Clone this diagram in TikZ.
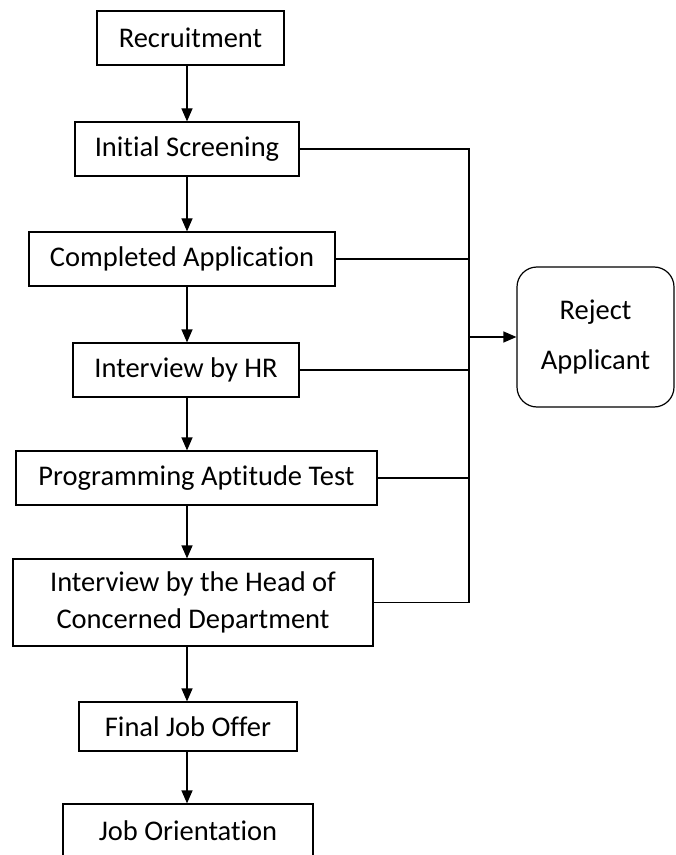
\documentclass[tikz,border=0pt]{standalone}
\usepackage{fontspec}
\setmainfont{Carlito}[Ligatures={NoCommon}]
\usetikzlibrary{arrows.meta}

\begin{document}
\begin{tikzpicture}[x=0.5pt,y=-0.5pt,
  every node/.style={font=\fontsize{14.25}{18.5}\selectfont},
  stage/.style={shape=rectangle,draw=black,line width=0.6pt,inner sep=0pt,minimum height=27pt,align=center},
  reject/.style={shape=rectangle,draw=black,line width=0.6pt,rounded corners=10pt,inner sep=0pt,align=center},
  flow/.style={line width=0.6pt,-{Triangle[length=6.5pt,width=5.5pt]}},
  link/.style={line width=0.6pt}]
\useasboundingbox (0,0) rectangle (675,855);
\coordinate (spine) at (187,0);
\coordinate (bus) at (469,0);
\node[stage,minimum width=93.5pt] (A) at (190.5,38) {Recruitment};
\node[stage,minimum width=112pt] (B) at (187,149) {Initial Screening};
\node[stage,minimum width=153pt] (C) at (182,259) {Completed Application};
\node[stage,minimum width=113pt] (D) at (186,370) {Interview by HR};
\node[stage,minimum width=180.5pt] (E) at (196.5,478) {Programming Aptitude Test};
\node[stage,minimum width=180pt,minimum height=43.5pt] (F) at (193,602.5) {Interview by the Head of\\Concerned Department};
\node[stage,minimum width=109pt,minimum height=24.5pt] (G) at (188,726.5) {Final Job Offer};
\node[stage,minimum width=125pt] (H) at (188,831) {Job Orientation};
\node[reject,minimum width=78.5pt,minimum height=70pt] (R) at (595.5,337) {Reject\\[6.5pt]Applicant};
\draw[flow] (A.south -| spine) -- (B.north -| spine);
\draw[flow] (B.south -| spine) -- (C.north -| spine);
\draw[flow] (C.south -| spine) -- (D.north -| spine);
\draw[flow] (D.south -| spine) -- (E.north -| spine);
\draw[flow] (E.south -| spine) -- (F.north -| spine);
\draw[flow] (F.south -| spine) -- (G.north -| spine);
\draw[flow] (G.south -| spine) -- (H.north -| spine);
\draw[link] (B.east) -- (B.east -| bus) -- (F.east -| bus) -- (F.east);
\draw[link] (C.east) -- (C.east -| bus);
\draw[link] (D.east) -- (D.east -| bus);
\draw[link] (E.east) -- (E.east -| bus);
\draw[flow] (R.west -| bus) -- (R.west);
\end{tikzpicture}
\end{document}
